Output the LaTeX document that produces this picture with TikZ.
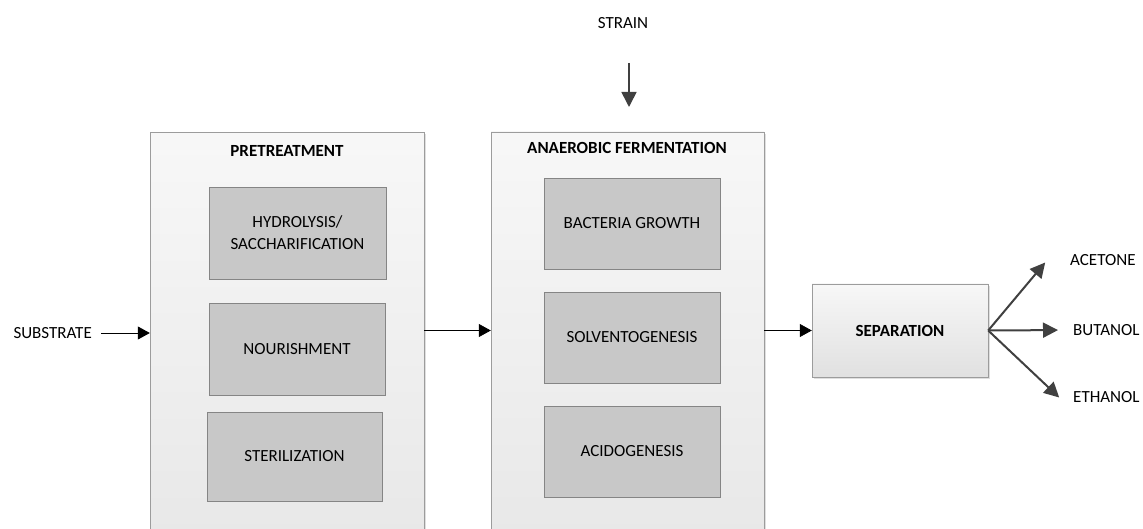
\documentclass[tikz,border=0pt]{standalone}
\usepackage{fontspec}
\setmainfont{Carlito}
\usetikzlibrary{arrows.meta,shadows}
\definecolor{boxline}{HTML}{9C9C9C}
\definecolor{stepfill}{HTML}{C8C8C8}
\definecolor{stepline}{HTML}{858585}
\definecolor{darkarrow}{HTML}{404040}

\begin{document}
\begin{tikzpicture}[x=1pt,y=-1pt,
    stagebox/.style={draw=boxline,top color=white!97!black,bottom color=white!91!black,
      drop shadow={shadow xshift=2pt,shadow yshift=-2pt,fill=black!25},
      minimum width=#1,minimum height=403,inner sep=0pt},
    stepbox/.style={draw=stepline,fill=stepfill,align=center,
      minimum width=176,minimum height=91,inner sep=0pt,font=\fontsize{17}{22}\selectfont},
    title/.style={font=\fontsize{17}{20}\selectfont\bfseries},
    lbl/.style={font=\fontsize{17}{20}\selectfont,inner sep=0pt},
    flow/.style={-{Triangle[length=12pt,width=13pt]},black,line width=0.8pt},
    outarrow/.style={-{Triangle[length=15pt,width=15pt]},darkarrow,line width=2pt}]
     \useasboundingbox (0,0) rectangle (1143,529);
     % stages
     \node[stagebox=274] (pre) at (287,334) {};
     \node[title] (pretitle) at (287,151) {PRETREATMENT};
     \node[stepbox,minimum width=177,minimum height=92] (hyd) at (297.5,233) {HYDROLYSIS/\\SACCHARIFICATION};
     \node[stepbox,minimum height=92] (nour) at (297,349) {NOURISHMENT};
     \node[stepbox,minimum width=175,minimum height=89] (ster) at (294.5,456.5) {STERILIZATION};

     \node[stagebox=273] (anaer) at (627.5,333.5) {};
     \node[title] (antitle) at (627,148) {ANAEROBIC FERMENTATION};
     \node[stepbox] (bact) at (632,223.5) {BACTERIA GROWTH};
     \node[stepbox] (solv) at (632,337.5) {SOLVENTOGENESIS};
     \node[stepbox] (acid) at (632,451.5) {ACIDOGENESIS};

     \node[draw=boxline,top color=white!97!black,bottom color=white!88!black,
       drop shadow={shadow xshift=2pt,shadow yshift=-2pt,fill=black!25},
       minimum width=176,minimum height=93,title] (sep) at (900,330.5) {SEPARATION};

     % inputs and products
     \node[lbl,anchor=east] (sub) at (92,333) {SUBSTRATE};
     \node[lbl] (strain) at (623,23) {STRAIN};
     \coordinate (sa) at (629,63);
     \coordinate (sb) at (629,107);
     \node[lbl,anchor=west] (ace) at (1070,260) {ACETONE};
     \node[lbl,anchor=west] (but) at (1073,330) {BUTANOL};
     \node[lbl,anchor=west] (eth) at (1073,397) {ETHANOL};

     % connectors
     \draw[flow,shorten <=9pt] (sub.east) -- (pre.west |- sub.east);
     \draw[outarrow,line width=1.6pt] (sa) -- (sb);
     \draw[flow] (pre.east |- sep.west) -- (anaer.west |- sep.west);
     \draw[flow] (anaer.east |- sep.west) -- (sep.west);
     \draw[outarrow] (sep.east) -- ++(57,-68) coordinate (acetip);
     \draw[outarrow,shorten >=15pt] (sep.east) -- (but.west);
     \draw[outarrow] (sep.east) -- ++(71,67) coordinate (ethtip);
    \end{tikzpicture}
\end{document}
